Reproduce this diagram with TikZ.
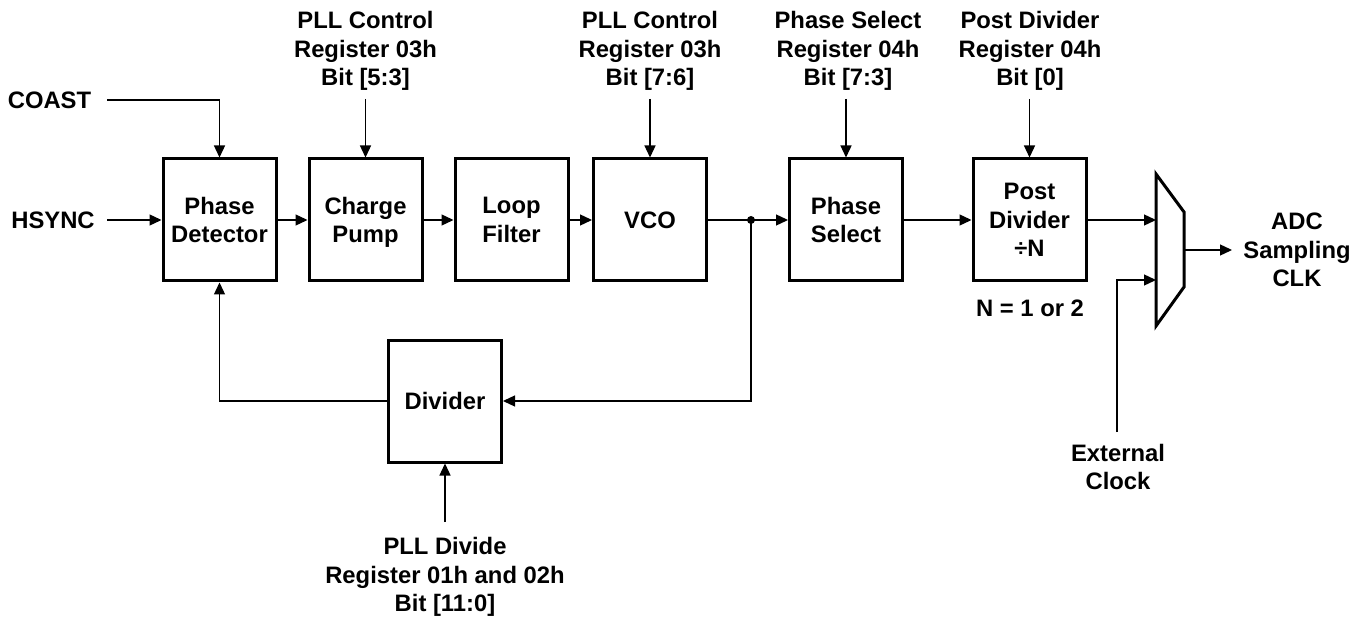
\documentclass[tikz,border=0pt]{standalone}
\usepackage{fontspec}
\setmainfont{Liberation Sans}
\usetikzlibrary{arrows.meta}
\begin{document}
\begin{tikzpicture}[x=1pt,y=-1pt,
  every node/.style={font=\bfseries\fontsize{23.8}{28.5}\selectfont, align=center, inner sep=0pt},
  blk/.style={draw, line width=3pt, minimum width=113pt, minimum height=122pt},
  wire/.style={line width=1.3pt},
  arr/.style={wire, -{Triangle[length=12pt,width=11pt]}},
]
\useasboundingbox (0,0) rectangle (1364,617);

% blocks
\node[blk] (pd)   at (219.5,220) {Phase\\Detector};
\node[blk] (cp)   at (365.5,220) {Charge\\\smash{Pump}};
\node[blk] (lf)   at (511.5,220) {Loop\\Filter};
\node[blk] (vco)  at (650,220)   {VCO};
\node[blk] (ps)   at (846,220)   {Phase\\Select};
\node[blk] (pdv)  at (1029.5,220) {Post\\Divider\\÷N};
\node[blk] (div)  at (445,401)   {Divider};

% multiplexer
\coordinate (mA) at (1156,174);
\coordinate (mB) at (1184,212);
\coordinate (mC) at (1184,287);
\coordinate (mD) at (1156,326);
\draw[line width=3pt, line join=miter] (mA) -- (mB) -- (mC) -- (mD) -- cycle;
\coordinate (m1) at (1156,220);
\coordinate (m2) at (1156,280);
\coordinate (mo) at (1184,250);

% labels
\node (coast) at (49.5,100) {COAST};
\node (hsync) at (53,220) {HSYNC};
\node (l1) at (365.5,51) {PLL Control\\Register 03h\\Bit [5:3]};
\node (l2) at (650,51) {PLL Control\\Register 03h\\Bit [7:6]};
\node (l3) at (848,51) {Phase Select\\Register 04h\\Bit [7:3]};
\node (l4) at (1030,51) {Post Divider\\Register 04h\\Bit [0]};
\node (nn) at (1030,308) {N = 1 or 2};
\node (adc) at (1297,250) {ADC\\Sampling\\CLK};
\node (ext) at (1118,467) {External\\Clock};
\node (pll) at (445,577) {PLL Divide\\Register 01h and 02h\\Bit [11:0]};

% free ends
\coordinate (cs) at (107,100);
\coordinate (hs) at (107,220);
\coordinate (t1) at (365.5,99);
\coordinate (t2) at (650,99);
\coordinate (t3) at (846,99);
\coordinate (t4) at (1029.5,99);
\coordinate (j)  at (751,220);
\coordinate (eb) at (1117,432);
\coordinate (ao) at (1232,250);
\coordinate (pb) at (445,522);

% connectors
\draw[arr] (cs) -| (pd.north);
\draw[arr] (hs) -- (pd.west);
\draw[arr] (pd.east) -- (cp.west);
\draw[arr] (cp.east) -- (lf.west);
\draw[arr] (lf.east) -- (vco.west);
\draw[arr] (vco.east) -- (ps.west);
\draw[arr] (ps.east) -- (pdv.west);
\draw[arr] (pdv.east) -- (m1);
\draw[arr] (eb) |- (m2);
\draw[arr] (mo) -- (ao);
\draw[arr] (t1) -- (cp.north);
\draw[arr] (t2) -- (vco.north);
\draw[arr] (t3) -- (ps.north);
\draw[arr] (t4) -- (pdv.north);
\draw[arr] (j) |- (div.east);
\draw[arr] (div.west) -| (pd.south);
\draw[arr] (pb) -- (div.south);
\fill (j) circle (4pt);
\end{tikzpicture}
\end{document}
